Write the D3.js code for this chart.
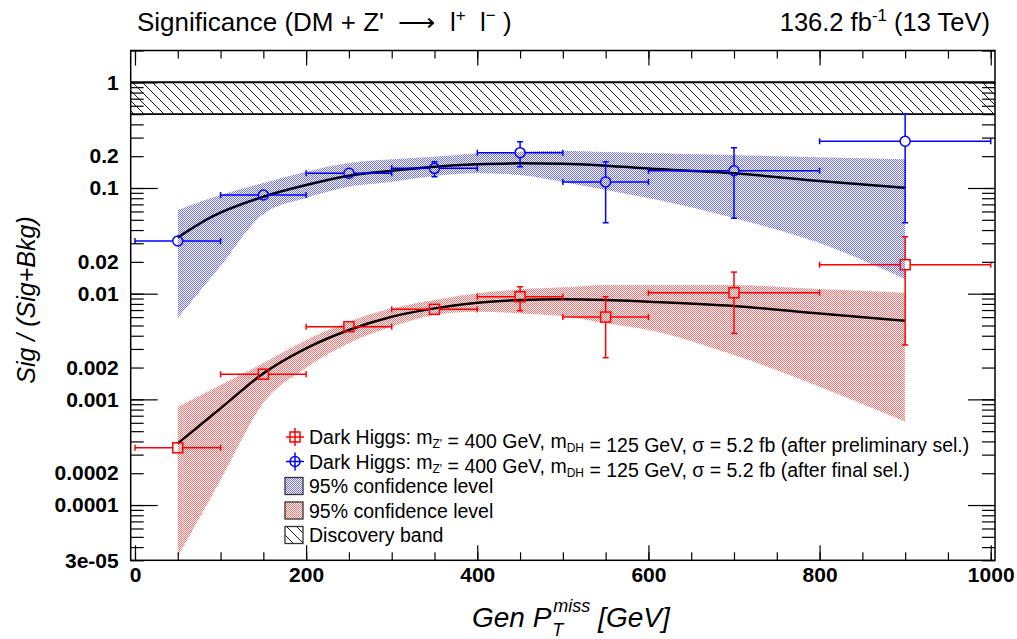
<!DOCTYPE html>
<html>
<head>
<meta charset="utf-8">
<script src="https://cdn.jsdelivr.net/npm/d3@7"></script>
<style>
body { margin: 0; background: #fff; }
text { font-family: "Liberation Sans", Arial, sans-serif; fill: #000; white-space: pre; }
</style>
</head>
<body>
<div id="chart"></div>
<script>
// bins in Gen pT miss
var binCenter = [50, 150, 250, 350, 450, 550, 700, 900];
var binLow = [0, 100, 200, 300, 400, 500, 600, 800];
var binHigh = [100, 200, 300, 400, 500, 600, 800, 1000];

// after final selection (blue)
var finalSig = [0.0315, 0.0858, 0.138, 0.1535, 0.216, 0.114, 0.1457, 0.2766];
var finalLo = [0.0305, 0.083, 0.133, 0.128, 0.159, 0.0469, 0.0516, 0.0469];
var finalHi = [0.0325, 0.089, 0.144, 0.177, 0.274, 0.177, 0.2405, 0.5];

// after preliminary selection (red)
var prelimSig = [3.48e-4, 1.73e-3, 4.87e-3, 7.11e-3, 9.36e-3, 6.01e-3, 0.0102, 0.0188];
var prelimLo = [3.4e-4, 1.67e-3, 4.7e-3, 6.43e-3, 6.9e-3, 2.48e-3, 4.21e-3, 3.27e-3];
var prelimHi = [3.56e-4, 1.79e-3, 5.05e-3, 7.73e-3, 0.01164, 0.00935, 0.016, 0.0346];

// fitted curves
var blueFitX = [50, 90, 150, 200, 250, 300, 350, 400, 450, 500, 550, 600, 700, 800, 900];
var blueFitY = [0.034, 0.0535, 0.0827, 0.1067, 0.1306, 0.1457, 0.1589, 0.1675, 0.1712, 0.1695, 0.1625, 0.1528, 0.1377, 0.1164, 0.1006];
var redFitX = [50, 72, 100, 150, 200, 250, 300, 350, 400, 450, 500, 550, 600, 700, 800, 900];
var redFitY = [3.835e-4, 5.35e-4, 8.22e-4, 1.762e-3, 3.04e-3, 4.53e-3, 6.05e-3, 7.26e-3, 8.21e-3, 8.71e-3, 8.84e-3, 8.71e-3, 8.39e-3, 7.64e-3, 6.49e-3, 5.54e-3];

// 95% CL bands
var bandX = [50, 100, 150, 200, 250, 300, 350, 400, 450, 500, 550, 600, 700, 800, 900];
var blueBandHi = [0.0619, 0.0858, 0.1114, 0.1426, 0.1723, 0.1867, 0.1976, 0.2129, 0.2204, 0.2253, 0.219, 0.2143, 0.2051, 0.1951, 0.1867];
var blueBandLo = [0.00588, 0.01827, 0.0567, 0.0804, 0.1028, 0.1146, 0.1298, 0.1377, 0.1327, 0.1139, 0.0957, 0.0804, 0.052, 0.0301, 0.01375];
var redBandHi = [8.51e-4, 1.366e-3, 2.206e-3, 3.64e-3, 5.43e-3, 7.26e-3, 8.71e-3, 1.007e-2, 1.099e-2, 1.148e-2, 1.207e-2, 1.21e-2, 1.207e-2, 1.106e-2, 1.021e-2];
var redBandLo = [3.24e-5, 1.723e-4, 9.23e-4, 1.978e-3, 3.41e-3, 4.86e-3, 6.28e-3, 6.75e-3, 6.51e-3, 6.14e-3, 5.24e-3, 4.53e-3, 2.626e-3, 1.316e-3, 6.14e-4];

// discovery band
var discoveryBand = [0.5, 1];

// axis ticks
var xTickVals = [0, 200, 400, 600, 800, 1000];
var yTickVals = [1, 0.2, 0.1, 0.02, 0.01, 0.002, 0.001, 0.0002, 0.0001, 3e-5];
var yTickText = ["1", "0.2", "0.1", "0.02", "0.01", "0.002", "0.001", "0.0002", "0.0001", "3e-05"];

var w = 1017, h = 639;
var svg = d3.select("#chart").append("svg").attr("width", w).attr("height", h);

var pLeft = 130.7, pRight = 995, pTop = 50.5, pBottom = 560.3;
var x = d3.scaleLinear().domain([-5, 1005]).range([pLeft, pRight]);
var y = d3.scaleLog().domain([3e-5, 2]).range([pBottom, pTop]);

var defs = svg.append("defs");
// dotted fill like ROOT style 3001
function dotPattern(id, col) {
    var p = defs.append("pattern").attr("id", id).attr("patternUnits", "userSpaceOnUse")
        .attr("width", 2).attr("height", 2);
    p.append("rect").attr("width", 2).attr("height", 2).attr("fill", "#fff");
    p.append("rect").attr("width", 1).attr("height", 1).attr("fill", col);
    p.append("rect").attr("x", 1).attr("y", 1).attr("width", 1).attr("height", 1).attr("fill", col);
}
dotPattern("blueDots", "#6f6fff");
dotPattern("redDots", "#ff6f6f");
var hp = defs.append("pattern").attr("id", "hatch").attr("patternUnits", "userSpaceOnUse")
    .attr("width", 10).attr("height", 10);
hp.append("path").attr("d", "M-1,-1L11,11M-1,9L1,11M9,-1L11,1")
    .attr("stroke", "#000").attr("stroke-width", 0.9).attr("fill", "none");
defs.append("clipPath").attr("id", "frame").append("rect")
    .attr("x", pLeft).attr("y", pTop).attr("width", pRight - pLeft).attr("height", pBottom - pTop);

var plot = svg.append("g").attr("clip-path", "url(#frame)");

// discovery band
plot.append("rect")
    .attr("x", pLeft).attr("width", pRight - pLeft)
    .attr("y", y(discoveryBand[1])).attr("height", y(discoveryBand[0]) - y(discoveryBand[1]))
    .attr("fill", "url(#hatch)");
plot.append("line").attr("x1", pLeft).attr("x2", pRight)
    .attr("y1", y(discoveryBand[1])).attr("y2", y(discoveryBand[1]))
    .attr("stroke", "#000").attr("stroke-width", 2);
plot.append("line").attr("x1", pLeft).attr("x2", pRight)
    .attr("y1", y(discoveryBand[0])).attr("y2", y(discoveryBand[0]))
    .attr("stroke", "#000").attr("stroke-width", 1.6);

// bands
var area = d3.area().curve(d3.curveMonotoneX)
    .x(function (d) { return x(d[0]); })
    .y0(function (d) { return y(d[1]); })
    .y1(function (d) { return y(d[2]); });
plot.append("path").datum(d3.zip(bandX, blueBandLo, blueBandHi))
    .attr("d", area).attr("fill", "url(#blueDots)");
plot.append("path").datum(d3.zip(bandX, redBandLo, redBandHi))
    .attr("d", area).attr("fill", "url(#redDots)");

// fit curves
var line = d3.line().curve(d3.curveMonotoneX)
    .x(function (d) { return x(d[0]); })
    .y(function (d) { return y(d[1]); });
plot.append("path").datum(d3.zip(blueFitX, blueFitY)).attr("d", line)
    .attr("fill", "none").attr("stroke", "#000").attr("stroke-width", 2.5);
plot.append("path").datum(d3.zip(redFitX, redFitY)).attr("d", line)
    .attr("fill", "none").attr("stroke", "#000").attr("stroke-width", 2.5);

// points with error bars
function drawPoints(sig, lo, hi, col, shape) {
    var r = 5, cap = 3;
    var g = plot.append("g").attr("stroke", col).attr("stroke-width", 1.5).attr("fill", "none");
    binCenter.forEach(function (c, i) {
        var cx = x(c), cy = y(sig[i]);
        var segs = [];
        segs.push([x(binLow[i]), cy, cx - r, cy]);
        segs.push([cx + r, cy, x(binHigh[i]), cy]);
        segs.push([x(binLow[i]), cy - cap, x(binLow[i]), cy + cap]);
        segs.push([x(binHigh[i]), cy - cap, x(binHigh[i]), cy + cap]);
        if (y(hi[i]) < cy - r) {
            segs.push([cx, y(hi[i]), cx, cy - r]);
            segs.push([cx - cap, y(hi[i]), cx + cap, y(hi[i])]);
        }
        if (y(lo[i]) > cy + r) {
            segs.push([cx, cy + r, cx, y(lo[i])]);
            segs.push([cx - cap, y(lo[i]), cx + cap, y(lo[i])]);
        }
        g.selectAll(null).data(segs).enter().append("line")
            .attr("x1", function (d) { return d[0]; }).attr("y1", function (d) { return d[1]; })
            .attr("x2", function (d) { return d[2]; }).attr("y2", function (d) { return d[3]; });
        if (shape == "circle") {
            g.append("circle").attr("cx", cx).attr("cy", cy).attr("r", r);
        } else {
            g.append("rect").attr("x", cx - r).attr("y", cy - r).attr("width", 2 * r).attr("height", 2 * r);
        }
    });
}
drawPoints(prelimSig, prelimLo, prelimHi, "#ff0000", "square");
drawPoints(finalSig, finalLo, finalHi, "#0000ff", "circle");

// axes: ticks pointing inward on all four sides
var yMinor = y.ticks().filter(function (v) { return v >= 3e-5 && v <= 2; });
var yMajor = yMinor.filter(function (v) { return Math.abs(Math.log10(v) - Math.round(Math.log10(v))) < 1e-6; });
var xMinor = d3.range(0, 1001, 50);

function tickAxis(axis, vals, size, tx, ty) {
    var g = svg.append("g").attr("transform", "translate(" + tx + "," + ty + ")")
        .call(axis.tickValues(vals).tickSize(size).tickSizeOuter(0).tickFormat(""));
    g.select(".domain").remove();
    g.selectAll("line").attr("stroke", "#000").attr("stroke-width", 1.2);
}
tickAxis(d3.axisRight(y), yMinor, 13, pLeft, 0);
tickAxis(d3.axisRight(y), yMajor, 27, pLeft, 0);
tickAxis(d3.axisLeft(y), yMinor, 13, pRight, 0);
tickAxis(d3.axisLeft(y), yMajor, 27, pRight, 0);
tickAxis(d3.axisTop(x), xMinor, 8, 0, pBottom);
tickAxis(d3.axisTop(x), xTickVals, 15, 0, pBottom);
tickAxis(d3.axisBottom(x), xMinor, 8, 0, pTop);
tickAxis(d3.axisBottom(x), xTickVals, 15, 0, pTop);

// tick labels
var yl = svg.append("g").attr("transform", "translate(" + pLeft + ",0)")
    .call(d3.axisLeft(y).tickValues(yTickVals).tickSize(0).tickPadding(12)
        .tickFormat(function (d, i) { return yTickText[i]; }));
yl.select(".domain").remove();
yl.selectAll("text").attr("font-size", 21).attr("font-weight", "bold")
    .attr("font-family", "'Liberation Sans', Arial, sans-serif");
var xl = svg.append("g").attr("transform", "translate(0," + pBottom + ")")
    .call(d3.axisBottom(x).tickValues(xTickVals).tickSize(0).tickPadding(7).tickFormat(d3.format("d")));
xl.select(".domain").remove();
xl.selectAll("text").attr("font-size", 21).attr("font-weight", "bold")
    .attr("font-family", "'Liberation Sans', Arial, sans-serif");

// frame
svg.append("rect").attr("x", pLeft).attr("y", pTop).attr("width", pRight - pLeft).attr("height", pBottom - pTop)
    .attr("fill", "none").attr("stroke", "#000").attr("stroke-width", 1.5);

// titles
var t1 = svg.append("text").attr("x", 137).attr("y", 31).attr("font-size", 26);
t1.append("tspan").text("Significance (DM + Z'  \u27f6  l");
t1.append("tspan").attr("dy", -10).attr("font-size", 17).text("+");
t1.append("tspan").attr("dy", 10).text("  l");
t1.append("tspan").attr("dy", -10).attr("font-size", 17).text("\u2212");
t1.append("tspan").attr("dy", 10).text(" )");

var t2 = svg.append("text").attr("x", 990).attr("y", 31).attr("font-size", 25.5).attr("text-anchor", "end");
t2.append("tspan").text("136.2 fb");
t2.append("tspan").attr("dy", -10).attr("font-size", 17).text("-1");
t2.append("tspan").attr("dy", 10).text(" (13 TeV)");

// y axis title
svg.append("text").attr("transform", "translate(35,300) rotate(-90)")
    .attr("text-anchor", "middle").attr("font-size", 25).attr("font-style", "italic")
    .text("Sig / (Sig+Bkg)");

// x axis title: Gen P_T^miss [GeV]
var xt = svg.append("g").attr("font-style", "italic");
var a = xt.append("text").attr("y", 627).attr("font-size", 28).text("Gen P");
var aw = a.node().getComputedTextLength();
var sup = xt.append("text").attr("y", 612).attr("font-size", 18).text("miss");
var sub = xt.append("text").attr("y", 636).attr("font-size", 18).text("T");
var b = xt.append("text").attr("y", 627).attr("font-size", 28).text(" [GeV]");
var sw = Math.max(sup.node().getComputedTextLength(), sub.node().getComputedTextLength());
var total = aw + 2 + sw + b.node().getComputedTextLength();
var x0 = x(500) - total / 2 + 8;
a.attr("x", x0);
sup.attr("x", x0 + aw + 2);
sub.attr("x", x0 + aw + 1);
b.attr("x", x0 + aw + 2 + sw);

// legend
var legX = 285, legY = 437, legStep = 24.5;
var leg = svg.append("g");
function legendText(row, parts) {
    var t = leg.append("text").attr("x", legX + 24).attr("y", legY + row * legStep + 7).attr("font-size", 19.5);
    parts.forEach(function (p) {
        if (p.sub) {
            t.append("tspan").attr("dy", 4).attr("font-size", 12).text(p.sub);
            t.append("tspan").attr("dy", -4).text("");
        } else {
            t.append("tspan").text(p.t);
        }
    });
}
function higgsParts(sel) {
    return [{ t: "Dark Higgs: m" }, { sub: "Z'" }, { t: " = 400 GeV, m" }, { sub: "DH" },
        { t: " = 125 GeV, \u03c3 = 5.2 fb (after " + sel + " sel.)" }];
}
// marker rows
[["#ff0000", "square"], ["#0000ff", "circle"]].forEach(function (m, i) {
    var cx = legX + 10, cy = legY + i * legStep;
    var g = leg.append("g").attr("stroke", m[0]).attr("stroke-width", 1.5).attr("fill", "none");
    g.append("line").attr("x1", cx - 9).attr("x2", cx + 9).attr("y1", cy).attr("y2", cy);
    g.append("line").attr("x1", cx).attr("x2", cx).attr("y1", cy - 9).attr("y2", cy + 9);
    if (m[1] == "circle") g.append("circle").attr("cx", cx).attr("cy", cy).attr("r", 5);
    else g.append("rect").attr("x", cx - 5).attr("y", cy - 5).attr("width", 10).attr("height", 10);
});
legendText(0, higgsParts("preliminary"));
legendText(1, higgsParts("final"));
["url(#blueDots)", "url(#redDots)", "url(#hatch)"].forEach(function (f, i) {
    var cy = legY + (i + 2) * legStep;
    leg.append("rect").attr("x", legX).attr("y", cy - 8.5).attr("width", 18).attr("height", 17)
        .attr("fill", f).attr("stroke", "#333").attr("stroke-width", 1.3);
});
legendText(2, [{ t: "95% confidence level" }]);
legendText(3, [{ t: "95% confidence level" }]);
legendText(4, [{ t: "Discovery band" }]);
</script>
</body>
</html>
